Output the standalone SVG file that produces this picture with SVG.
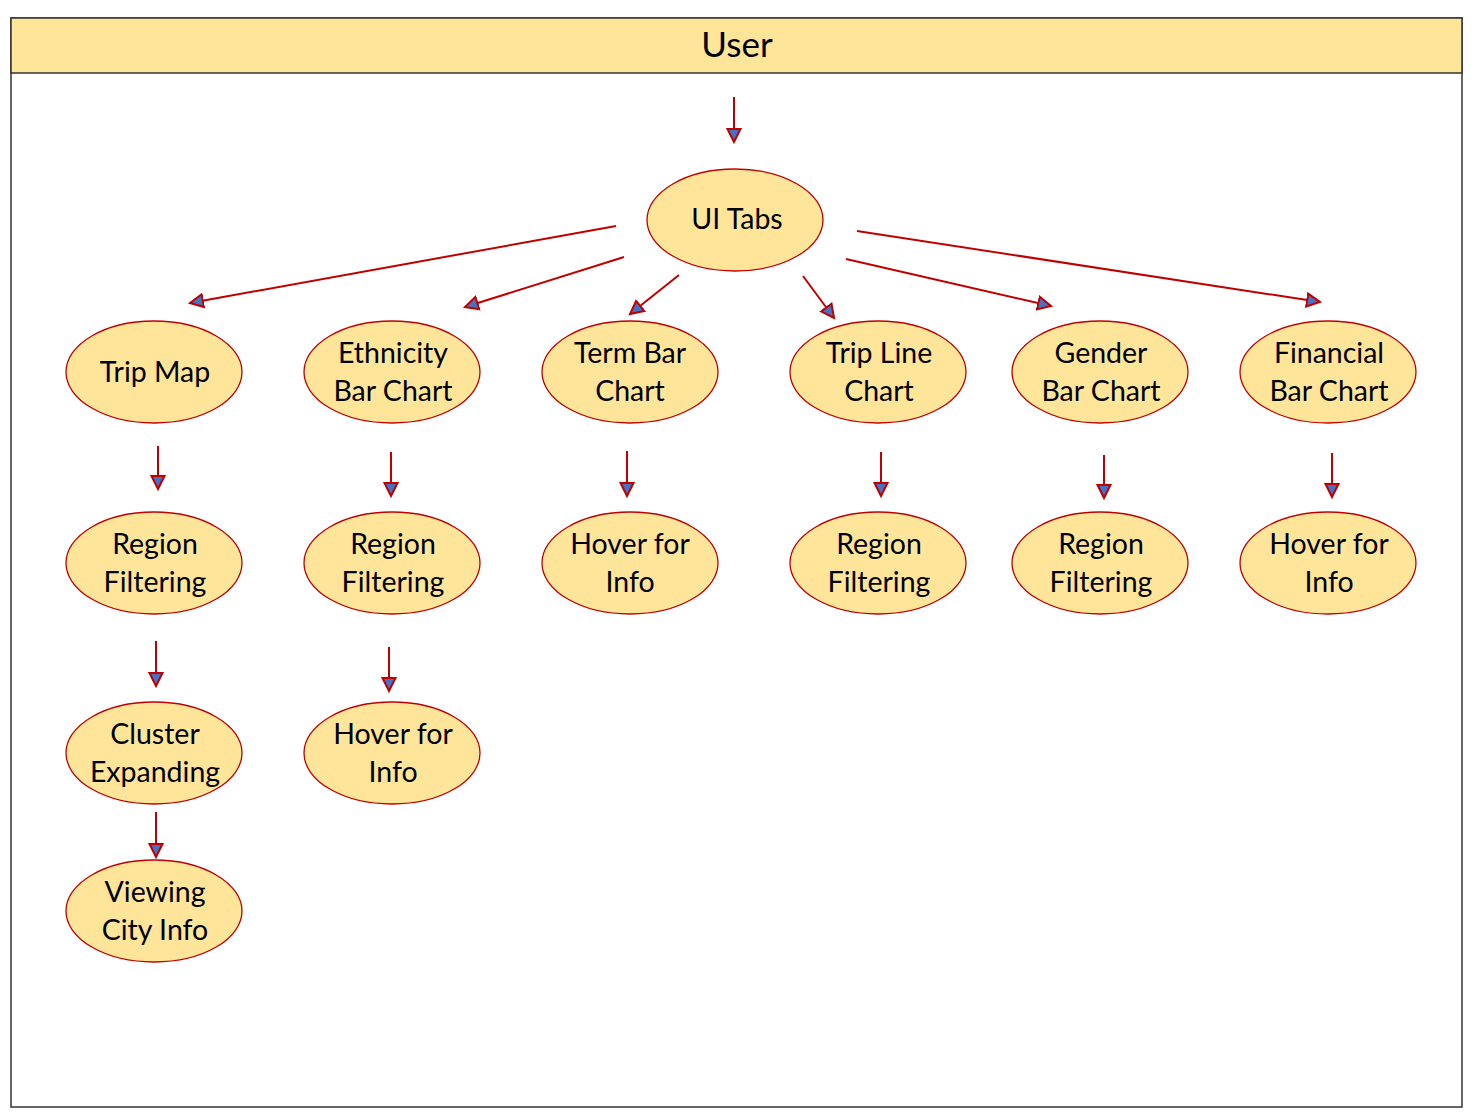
<svg xmlns="http://www.w3.org/2000/svg" width="1473" height="1119" viewBox="0 0 1473 1119">
<style>
.n ellipse{fill:#FFE599;stroke:#C00000;stroke-width:1.3}
.n text,.h{font-family:Lato,"Open Sans","Liberation Sans",sans-serif;font-size:28.5px;fill:#000;text-anchor:middle}
.c line{stroke:#C00000;stroke-width:2;marker-end:url(#ah)}
</style>
<defs>
<marker id="ah" markerUnits="userSpaceOnUse" markerWidth="18" markerHeight="18" viewBox="0 0 18 18" refX="14" refY="9" orient="auto">
<path d="M1,2.5 L14,9 L1,15.5 Z" fill="#4472C4" stroke="#C00000" stroke-width="2" stroke-linejoin="miter"/>
</marker>
</defs>
<rect x="0" y="0" width="1473" height="1119" fill="#fff"/>
<g id="frame">
<rect x="11" y="18" width="1451" height="1089" fill="#fff" stroke="#333" stroke-width="1.5"/>
<rect x="11" y="18" width="1451" height="55" fill="#FFE599" stroke="#333" stroke-width="1.5"/>
<text class="h" x="737" y="57" style="font-size:35px">User</text>
</g>
<g class="c" id="connectors">
<line x1="734" y1="97" x2="734" y2="142"/>
<line x1="616" y1="226" x2="190" y2="303"/>
<line x1="624" y1="257" x2="465" y2="307"/>
<line x1="679" y1="275" x2="630" y2="314"/>
<line x1="803" y1="276" x2="834" y2="318"/>
<line x1="846" y1="259" x2="1051" y2="306"/>
<line x1="857" y1="231" x2="1320" y2="302"/>
<line x1="158" y1="446" x2="158" y2="489"/>
<line x1="156" y1="641" x2="156" y2="686"/>
<line x1="156" y1="812" x2="156" y2="857"/>
<line x1="391" y1="452" x2="391" y2="496"/>
<line x1="389" y1="647" x2="389" y2="691"/>
<line x1="627" y1="451" x2="627" y2="496"/>
<line x1="881" y1="452" x2="881" y2="496"/>
<line x1="1104" y1="455" x2="1104" y2="498"/>
<line x1="1332" y1="453" x2="1332" y2="497"/>
</g>
<g class="n" id="ui-tabs"><ellipse cx="735" cy="220" rx="88" ry="51"/><text x="737" y="229">UI Tabs</text></g>
<g class="n" id="trip-map"><ellipse cx="154" cy="372" rx="88" ry="51"/><text x="155" y="382">Trip Map</text></g>
<g class="n" id="ethnicity"><ellipse cx="392" cy="372" rx="88" ry="51"/><text x="393" y="363">Ethnicity</text><text x="393" y="401">Bar Chart</text></g>
<g class="n" id="term"><ellipse cx="630" cy="372" rx="88" ry="51"/><text x="630" y="363">Term Bar</text><text x="630" y="401">Chart</text></g>
<g class="n" id="trip-line"><ellipse cx="878" cy="372" rx="88" ry="51"/><text x="879" y="363">Trip Line</text><text x="879" y="401">Chart</text></g>
<g class="n" id="gender"><ellipse cx="1100" cy="372" rx="88" ry="51"/><text x="1101" y="363">Gender</text><text x="1101" y="401">Bar Chart</text></g>
<g class="n" id="financial"><ellipse cx="1328" cy="372" rx="88" ry="51"/><text x="1329" y="363">Financial</text><text x="1329" y="401">Bar Chart</text></g>
<g class="n" id="tm-region"><ellipse cx="154" cy="563" rx="88" ry="51"/><text x="155" y="554">Region</text><text x="155" y="592">Filtering</text></g>
<g class="n" id="tm-cluster"><ellipse cx="154" cy="753" rx="88" ry="51"/><text x="155" y="744">Cluster</text><text x="155" y="782">Expanding</text></g>
<g class="n" id="tm-city"><ellipse cx="154" cy="911" rx="88" ry="51"/><text x="155" y="902">Viewing</text><text x="155" y="940">City Info</text></g>
<g class="n" id="eth-region"><ellipse cx="392" cy="563" rx="88" ry="51"/><text x="393" y="554">Region</text><text x="393" y="592">Filtering</text></g>
<g class="n" id="eth-hover"><ellipse cx="392" cy="753" rx="88" ry="51"/><text x="393" y="744">Hover for</text><text x="393" y="782">Info</text></g>
<g class="n" id="term-hover"><ellipse cx="630" cy="563" rx="88" ry="51"/><text x="630" y="554">Hover for</text><text x="630" y="592">Info</text></g>
<g class="n" id="tl-region"><ellipse cx="878" cy="563" rx="88" ry="51"/><text x="879" y="554">Region</text><text x="879" y="592">Filtering</text></g>
<g class="n" id="g-region"><ellipse cx="1100" cy="563" rx="88" ry="51"/><text x="1101" y="554">Region</text><text x="1101" y="592">Filtering</text></g>
<g class="n" id="fin-hover"><ellipse cx="1328" cy="563" rx="88" ry="51"/><text x="1329" y="554">Hover for</text><text x="1329" y="592">Info</text></g>
</svg>
